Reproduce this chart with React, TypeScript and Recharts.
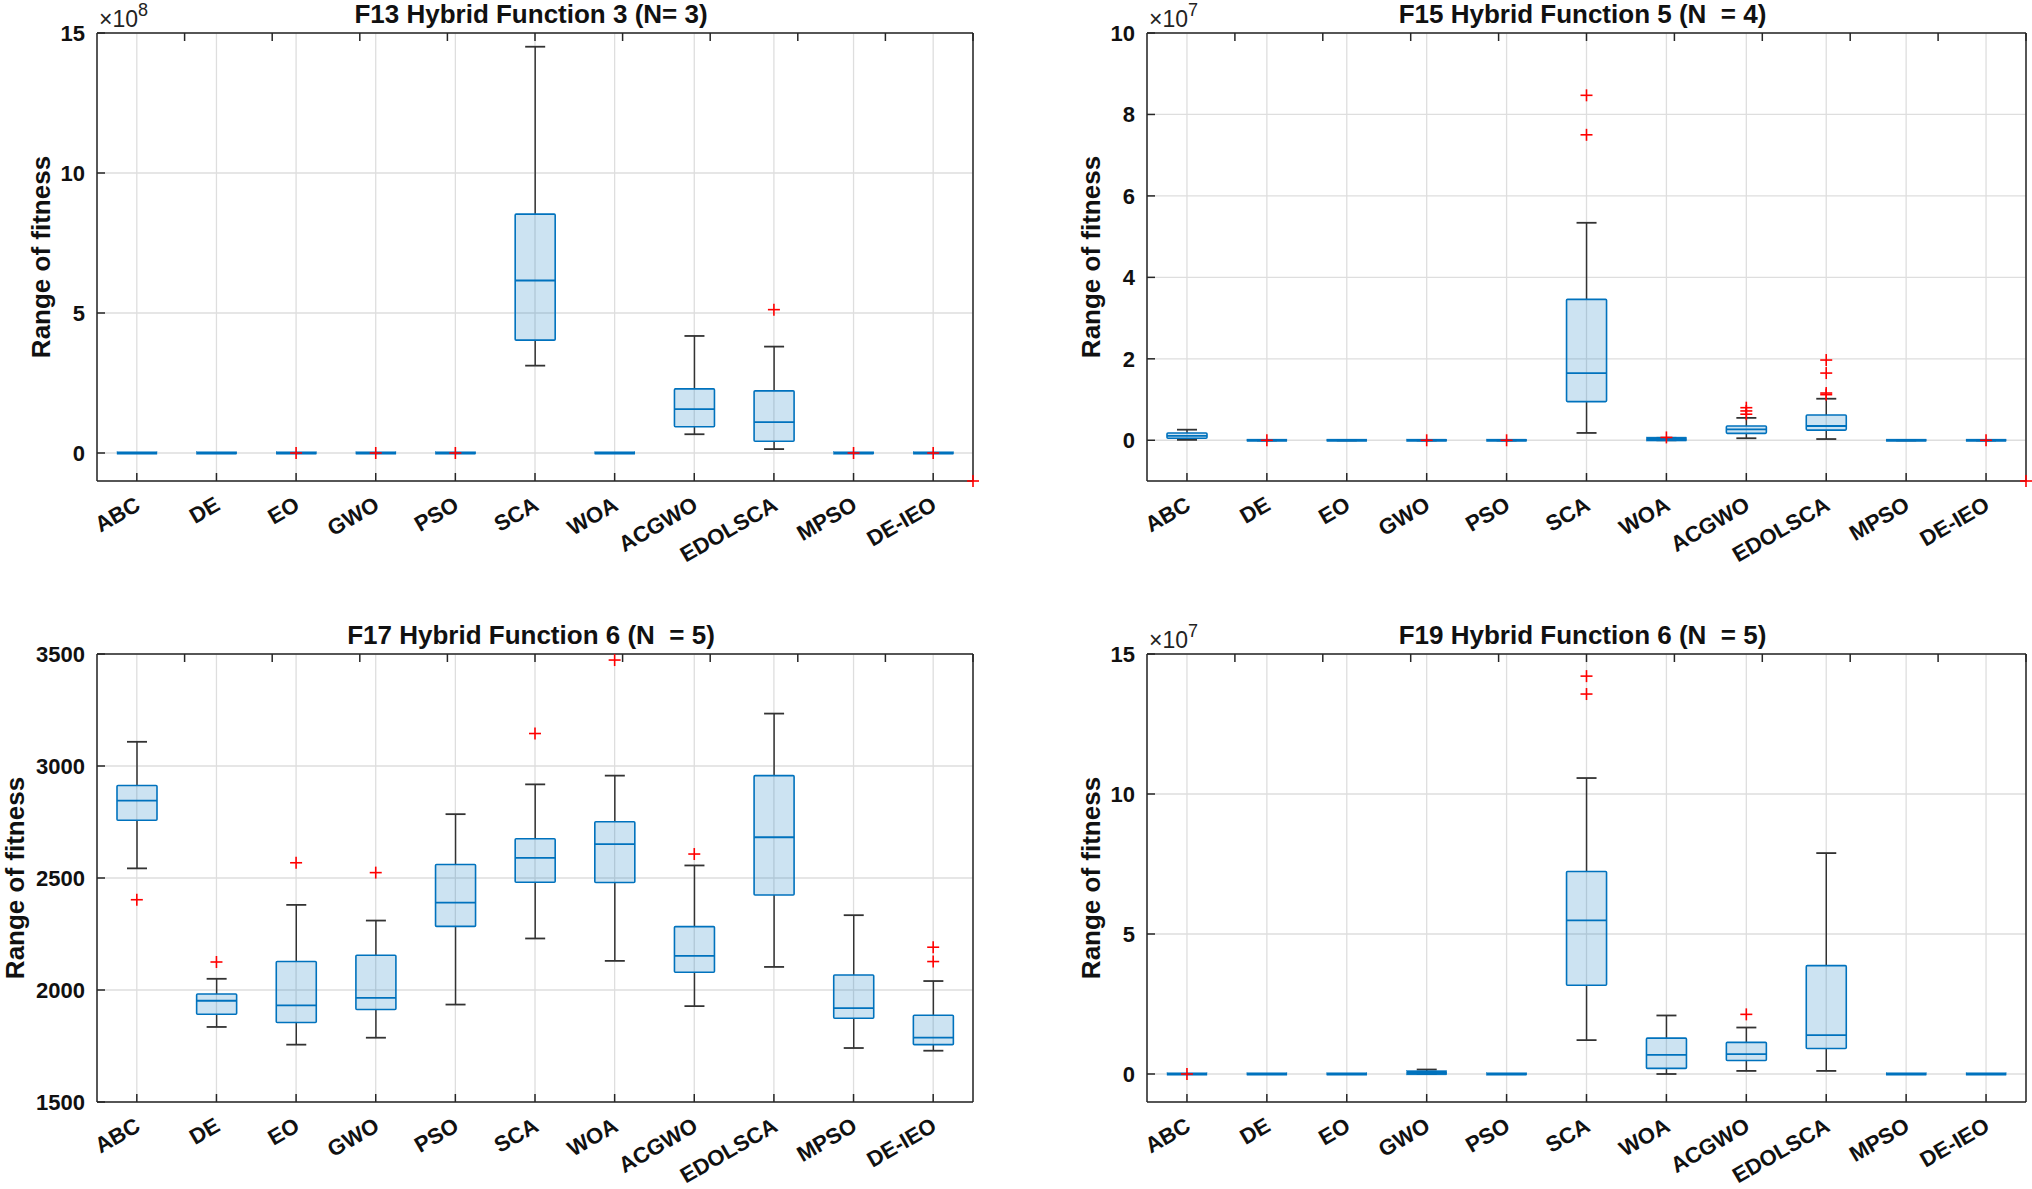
import React from "react";
import { Bar, CartesianGrid, ComposedChart, Scatter, XAxis, YAxis } from "recharts";

const algorithms = ["ABC", "DE", "EO", "GWO", "PSO", "SCA", "WOA", "ACGWO", "EDOLSCA", "MPSO", "DE-IEO"];
const catPositions = [1, 2, 3, 4, 5, 6, 7, 8, 9, 10, 11];

// F13 Hybrid Function 3 (values x1e8)
const f13Min = [0, 0, 0, 0, 0, 3.12, 0, 0.67, 0.14, 0, 0];
const f13Q1 = [0, 0, 0, 0, 0, 4.03, 0, 0.94, 0.42, 0, 0];
const f13Median = [0, 0, 0, 0, 0, 6.16, 0, 1.57, 1.1, 0, 0];
const f13Q3 = [0, 0, 0, 0, 0, 8.53, 0, 2.29, 2.22, 0, 0];
const f13Max = [0, 0, 0, 0, 0, 14.51, 0, 4.18, 3.8, 0, 0];
const f13Outliers: [string, number][] = [["EO", 0], ["GWO", 0], ["PSO", 0], ["EDOLSCA", 5.12], ["MPSO", 0], ["DE-IEO", 0]];
const f13Stray: [number, number][] = [[11.5, -1]];
const f13Ticks = [0, 5, 10, 15];

// F15 Hybrid Function 5 (values x1e7)
const f15Min = [0.01, 0, 0, 0, 0, 0.18, 0, 0.05, 0.03, 0, 0];
const f15Q1 = [0.05, 0, 0, 0, 0, 0.95, 0.01, 0.17, 0.25, 0, 0];
const f15Median = [0.11, 0, 0, 0, 0, 1.65, 0.02, 0.27, 0.35, 0, 0];
const f15Q3 = [0.18, 0, 0, 0, 0, 3.46, 0.05, 0.35, 0.62, 0, 0];
const f15Max = [0.26, 0, 0, 0, 0, 5.34, 0.06, 0.55, 1.02, 0, 0];
const f15Outliers: [string, number][] = [
  ["DE", 0], ["GWO", 0], ["PSO", 0], ["SCA", 7.5], ["SCA", 8.47], ["WOA", 0.07],
  ["ACGWO", 0.64], ["ACGWO", 0.72], ["ACGWO", 0.8],
  ["EDOLSCA", 1.12], ["EDOLSCA", 1.16], ["EDOLSCA", 1.65], ["EDOLSCA", 1.97], ["DE-IEO", 0],
];
const f15Stray: [number, number][] = [[11.5, -1]];
const f15Ticks = [0, 2, 4, 6, 8, 10];

// F17 Hybrid Function 6
const f17Min = [2543, 1835, 1756, 1787, 1935, 2230, 2130, 1928, 2103, 1741, 1729];
const f17Q1 = [2758, 1892, 1855, 1913, 2284, 2481, 2480, 2079, 2424, 1874, 1756];
const f17Median = [2845, 1952, 1931, 1965, 2390, 2590, 2651, 2152, 2682, 1919, 1787];
const f17Q3 = [2913, 1982, 2127, 2155, 2560, 2675, 2751, 2283, 2957, 2067, 1887];
const f17Max = [3108, 2050, 2380, 2310, 2785, 2918, 2957, 2556, 3234, 2334, 2040];
const f17Outliers: [string, number][] = [
  ["ABC", 2403], ["DE", 2125], ["EO", 2568], ["GWO", 2524], ["SCA", 3145], ["WOA", 3473],
  ["ACGWO", 2607], ["DE-IEO", 2127], ["DE-IEO", 2191],
];
const f17Stray: [number, number][] = [];
const f17Ticks = [1500, 2000, 2500, 3000, 3500];

// F19 Hybrid Function 6 (values x1e7)
const f19Min = [0, 0, 0, 0, 0, 1.21, 0, 0.11, 0.11, 0, 0];
const f19Q1 = [0, 0, 0, 0.01, 0, 3.17, 0.2, 0.48, 0.91, 0, 0];
const f19Median = [0, 0, 0, 0.04, 0, 5.49, 0.68, 0.71, 1.39, 0, 0];
const f19Q3 = [0, 0, 0, 0.08, 0, 7.23, 1.28, 1.13, 3.87, 0, 0];
const f19Max = [0, 0, 0, 0.16, 0, 10.57, 2.09, 1.66, 7.89, 0, 0];
const f19Outliers: [string, number][] = [["ABC", 0], ["SCA", 13.57], ["SCA", 14.21], ["ACGWO", 2.13]];
const f19Stray: [number, number][] = [];
const f19Ticks = [0, 5, 10, 15];

const FONT = "'Liberation Sans', Arial, sans-serif";
const AXIS = "#262626";
const BLUE = "#0072BD";
const CHART_W = 1016;
const YW = 60;
const XH = 70;

const buildRows = (mn: number[], q1: number[], md: number[], q3: number[], mx: number[]) =>
  algorithms.map((name, i) => ({ name, min: mn[i], q1: q1[i], median: md[i], q3: q3[i], max: mx[i] }));

const buildOutliers = (list: [string, number][], stray: [number, number][]) => [
  ...list.map(([name, v]) => ({ x: algorithms.indexOf(name) + 1, y: v })),
  ...stray.map(([x, y]) => ({ x, y })),
];

const BoxShape = (props: any) => {
  const { x, y, width, height, payload } = props;
  if (x == null || y == null || !payload) return null;
  const top = Math.min(y, y + height);
  const h = Math.abs(height || 0);
  const cx = x + width / 2;
  const span = payload.max - payload.min;
  const py = (v: number) => (span > 0 ? top + (h * (payload.max - v)) / span : top);
  const half = width * 0.25;
  const cap = width * 0.125;
  const yMax = py(payload.max);
  const yQ3 = py(payload.q3);
  const yMed = py(payload.median);
  const yQ1 = py(payload.q1);
  const yMin = py(payload.min);
  const boxH = yQ1 - yQ3;
  return (
    <g>
      <line x1={cx} x2={cx} y1={yMax} y2={yQ3} stroke="#333" strokeWidth={1.5} />
      <line x1={cx} x2={cx} y1={yQ1} y2={yMin} stroke="#333" strokeWidth={1.5} />
      <line x1={cx - cap} x2={cx + cap} y1={yMax} y2={yMax} stroke="#333" strokeWidth={1.8} />
      <line x1={cx - cap} x2={cx + cap} y1={yMin} y2={yMin} stroke="#333" strokeWidth={1.8} />
      {boxH >= 2 ? (
        <rect x={cx - half} y={yQ3} width={half * 2} height={boxH} fill={BLUE} fillOpacity={0.2} stroke={BLUE} strokeWidth={1.6} rx={1} />
      ) : (
        <rect x={cx - half} y={yQ3 - 1.2} width={half * 2} height={boxH + 2.4} fill={BLUE} stroke={BLUE} strokeWidth={0.4} />
      )}
      <line x1={cx - half} x2={cx + half} y1={yMed} y2={yMed} stroke={BLUE} strokeWidth={1.8} />
    </g>
  );
};

const PlusShape = (props: any) => {
  const { cx, cy } = props;
  if (cx == null || cy == null) return null;
  return (
    <g>
      <line x1={cx - 6} x2={cx + 6} y1={cy} y2={cy} stroke="#ff0000" strokeWidth={1.6} />
      <line x1={cx} x2={cx} y1={cy - 6} y2={cy + 6} stroke="#ff0000" strokeWidth={1.6} />
    </g>
  );
};

const BottomTick = (props: any) => {
  const { x, y, payload } = props;
  return (
    <g>
      <line x1={x} x2={x} y1={y} y2={y - 8} stroke={AXIS} strokeWidth={1.5} />
      <text
        x={x + 5}
        y={y + 28}
        transform={`rotate(-30 ${x + 5} ${y + 28})`}
        textAnchor="end"
        fontFamily={FONT}
        fontWeight="bold"
        fontSize={22}
        fill="#111"
      >
        {payload.value}
      </text>
    </g>
  );
};

const TopTick = (props: any) => {
  const { x, y } = props;
  return <line x1={x} x2={x} y1={y} y2={y + 8} stroke={AXIS} strokeWidth={1.5} />;
};

const LeftTick = (props: any) => {
  const { x, y, payload } = props;
  return (
    <g>
      <line x1={x} x2={x + 8} y1={y} y2={y} stroke={AXIS} strokeWidth={1.5} />
      <text x={x - 12} y={y} dy="0.36em" textAnchor="end" fontFamily={FONT} fontWeight="bold" fontSize={22} fill="#111">
        {payload.value}
      </text>
    </g>
  );
};

const RightTick = (props: any) => {
  const { x, y } = props;
  return <line x1={x - 8} x2={x} y1={y} y2={y} stroke={AXIS} strokeWidth={1.5} />;
};

interface PanelProps {
  title: string;
  exponent?: string;
  rows: any[];
  outliers: { x: number; y: number }[];
  yDomain: [number, number];
  yTicks: number[];
  left: number;
  top: number;
  height: number;
  plotLeft: number;
  plotRight: number;
  plotTop: number;
  plotBottom: number;
  labelOffset: number;
}

const BoxPanel: React.FC<PanelProps> = (p) => {
  const axisLine = { stroke: AXIS, strokeWidth: 1.5 };
  const midY = (p.plotTop + p.plotBottom) / 2;
  const labelX = p.plotLeft - p.labelOffset;
  return (
    <div style={{ position: "absolute", left: p.left, top: p.top, width: CHART_W, height: p.height }}>
      <ComposedChart
        width={CHART_W}
        height={p.height}
        data={p.rows}
        barCategoryGap={0}
        barGap={0}
        margin={{
          top: p.plotTop - 1,
          right: CHART_W - p.plotRight - 1,
          bottom: p.height - p.plotBottom - XH,
          left: p.plotLeft - YW,
        }}
      >
        <CartesianGrid stroke="#dedede" strokeWidth={1.3} />
        <XAxis
          dataKey="name"
          type="category"
          height={XH}
          interval={0}
          tickSize={0}
          tickMargin={0}
          tickLine={false}
          axisLine={axisLine}
          tick={<BottomTick />}
        />
        <XAxis
          xAxisId="top"
          orientation="top"
          type="number"
          domain={[0.5, 11.5]}
          ticks={catPositions}
          height={1}
          interval={0}
          tickSize={0}
          tickMargin={0}
          tickLine={false}
          axisLine={axisLine}
          tick={<TopTick />}
        />
        <XAxis xAxisId="n" dataKey="x" type="number" domain={[0.5, 11.5]} hide />
        <YAxis
          type="number"
          domain={p.yDomain}
          ticks={p.yTicks}
          width={YW}
          interval={0}
          tickSize={0}
          tickMargin={0}
          tickLine={false}
          axisLine={axisLine}
          tick={<LeftTick />}
        />
        <YAxis
          yAxisId="r"
          orientation="right"
          type="number"
          domain={p.yDomain}
          ticks={p.yTicks}
          width={1}
          interval={0}
          tickSize={0}
          tickMargin={0}
          tickLine={false}
          axisLine={axisLine}
          tick={<RightTick />}
        />
        <Bar dataKey={(d: any) => [d.min, d.max]} shape={BoxShape} isAnimationActive={false} />
        <Scatter data={p.outliers} dataKey="y" xAxisId="n" shape={PlusShape} isAnimationActive={false} />
      </ComposedChart>
      <svg
        width={CHART_W}
        height={p.height}
        style={{ position: "absolute", left: 0, top: 0, pointerEvents: "none" }}
      >
        <text
          x={(p.plotLeft + p.plotRight) / 2 - 4}
          y={p.plotTop - 10}
          textAnchor="middle"
          fontFamily={FONT}
          fontWeight="bold"
          fontSize={26}
          fill="#111"
          style={{ whiteSpace: "pre" }}
        >
          {p.title}
        </text>
        <text
          x={labelX}
          y={midY}
          transform={`rotate(-90 ${labelX} ${midY})`}
          textAnchor="middle"
          dy="0.35em"
          fontFamily={FONT}
          fontWeight="bold"
          fontSize={26}
          fill="#111"
        >
          Range of fitness
        </text>
        {p.exponent && (
          <text x={p.plotLeft + 2} y={p.plotTop - 6} fontFamily={FONT} fontSize={23} fill="#222">
            ×10
            <tspan dy={-11} fontSize={18}>
              {p.exponent}
            </tspan>
          </text>
        )}
      </svg>
    </div>
  );
};

const App: React.FC = () => {
  return (
    <div style={{ position: "absolute", left: 0, top: 0, width: 2032, height: 1189, background: "#fff" }}>
      <BoxPanel
        title="F13 Hybrid Function 3 (N= 3)"
        exponent="8"
        rows={buildRows(f13Min, f13Q1, f13Median, f13Q3, f13Max)}
        outliers={buildOutliers(f13Outliers, f13Stray)}
        yDomain={[-1, 15]}
        yTicks={f13Ticks}
        left={0}
        top={0}
        height={594}
        plotLeft={97}
        plotRight={973}
        plotTop={33}
        plotBottom={481}
        labelOffset={56}
      />
      <BoxPanel
        title="F15 Hybrid Function 5 (N  = 4)"
        exponent="7"
        rows={buildRows(f15Min, f15Q1, f15Median, f15Q3, f15Max)}
        outliers={buildOutliers(f15Outliers, f15Stray)}
        yDomain={[-1, 10]}
        yTicks={f15Ticks}
        left={1016}
        top={0}
        height={594}
        plotLeft={131}
        plotRight={1010}
        plotTop={33}
        plotBottom={481}
        labelOffset={56}
      />
      <BoxPanel
        title="F17 Hybrid Function 6 (N  = 5)"
        rows={buildRows(f17Min, f17Q1, f17Median, f17Q3, f17Max)}
        outliers={buildOutliers(f17Outliers, f17Stray)}
        yDomain={[1500, 3500]}
        yTicks={f17Ticks}
        left={0}
        top={594}
        height={595}
        plotLeft={97}
        plotRight={973}
        plotTop={60}
        plotBottom={508}
        labelOffset={82}
      />
      <BoxPanel
        title="F19 Hybrid Function 6 (N  = 5)"
        exponent="7"
        rows={buildRows(f19Min, f19Q1, f19Median, f19Q3, f19Max)}
        outliers={buildOutliers(f19Outliers, f19Stray)}
        yDomain={[-1, 15]}
        yTicks={f19Ticks}
        left={1016}
        top={594}
        height={595}
        plotLeft={131}
        plotRight={1010}
        plotTop={60}
        plotBottom={508}
        labelOffset={56}
      />
    </div>
  );
};

export default App;
